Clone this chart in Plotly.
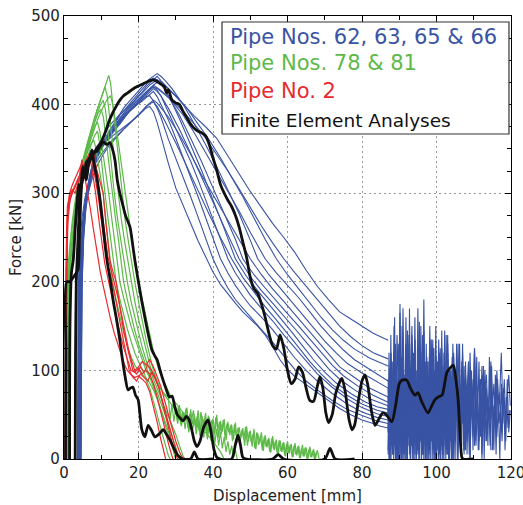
import plotly.graph_objects as go

# ---------------- data ----------------
BLUE_1 = [(3.8,0),(4.0,185),(4.3,235),(4.6,85),(4.9,215),(5.3,265),(6,300),(7,322),(8,338),(9,345),(10,352),(11,357),(12,361),(13,365),(14,368),(15,371),(16,374),(17,377),(18,380),(19,384),(20,388),(21,392),(22,396),(23,398),(24,392),(25,380),(26,364),(27,348),(28,334),(30,306),(32,285),(34,266),(36,246),(38,228),(40,211),(42,197),(44,186),(46,176),(48,166),(50,158),(52,150),(54,140),(56,127),(58,112),(60,101),(62,93),(65,84),(68,75),(71,66),(74,57),(77,50),(80,44),(83,40),(85,37),(87,35)]
BLUE_2 = [(3.6,0),(3.8,190),(4.2,240),(4.8,270),(5.5,292),(6.5,312),(7.5,330),(8.5,342),(10,354),(11,360),(12,367),(13,371),(14,376),(15,382),(16,386),(17,390),(18,395),(19,398),(20,402),(21,405),(22,409),(23,410),(24,404),(25,396),(26,386),(28,361),(30,340),(32,318),(34,296),(36,273),(38,250),(40,226),(42,208),(44,193),(46,180),(48,170),(50,160),(53,146),(56,132),(59,116),(62,101),(65,88),(68,78),(72,66),(76,56),(80,49),(84,43),(87,40)]
BLUE_3 = [(3.9,0),(4.1,175),(4.5,230),(5,262),(6,298),(7,318),(8,335),(9,346),(10,352),(12,364),(13,370),(14,374),(15,380),(16,385),(17,390),(18,394),(19,397),(20,401),(21,404),(22,408),(23,412),(24,415),(25,409),(26,400),(28,383),(30,362),(32,341),(34,318),(36,296),(38,273),(40,250),(42,226),(44,210),(46,196),(48,184),(50,173),(53,160),(56,146),(59,130),(62,114),(65,100),(68,88),(72,74),(76,62),(80,53),(84,47),(87,44)]
BLUE_4 = [(4.1,0),(4.3,180),(4.7,238),(5.3,275),(6,296),(7,317),(8,333),(9,344),(10,350),(11,358),(12,362),(13,368),(14,373),(15,378),(16,384),(17,389),(18,395),(19,399),(20,404),(21,408),(22,412),(23,417),(24,420),(25,416),(26,410),(28,392),(30,374),(32,355),(34,336),(36,315),(38,293),(40,272),(42,249),(44,226),(46,210),(48,197),(50,185),(53,170),(56,156),(59,140),(62,125),(65,110),(68,96),(72,81),(76,68),(80,58),(84,51),(87,48)]
BLUE_5 = [(3.7,0),(3.9,170),(4.3,228),(4.9,262),(5.6,288),(6.5,308),(7.5,322),(8.5,334),(10,344),(11,350),(12,355),(13,360),(14,364),(15,368),(16,372),(17,376),(18,380),(19,384),(20,388),(21,393),(22,397),(23,401),(24,403),(25,398),(27,382),(30,357),(33,330),(36,302),(39,276),(42,250),(45,226),(48,205),(51,188),(54,172),(57,157),(60,142),(63,126),(66,110),(69,96),(72,84),(76,72),(80,62),(84,55),(87,52)]
BLUE_6 = [(4.3,0),(4.5,190),(4.9,245),(5.5,278),(6.3,300),(7.2,320),(8.2,336),(9.5,350),(11,360),(12,366),(13,372),(14,378),(15,384),(16,389),(17,394),(18,398),(19,403),(20,407),(21,411),(22,415),(23,419),(24,422),(25,425),(26,423),(27,418),(29,402),(31,384),(33,365),(35,345),(37,325),(39,303),(41,282),(43,260),(46,226),(49,206),(52,190),(55,175),(58,160),(61,144),(64,128),(67,112),(70,98),(73,86),(77,74),(81,64),(84,59),(87,56)]
BLUE_7 = [(4.0,0),(4.2,185),(4.6,236),(5.2,270),(6,295),(7,315),(8,332),(9,343),(10,352),(11,358),(12,364),(13,370),(14,376),(15,381),(16,386),(17,390),(18,394),(19,399),(20,403),(21,407),(22,411),(23,415),(24,418),(25,415),(26,410),(28,396),(31,372),(34,345),(37,318),(40,290),(43,262),(47,226),(50,206),(53,190),(56,176),(59,162),(62,147),(65,132),(68,117),(71,102),(74,90),(78,78),(82,68),(87,60)]
BLUE_8 = [(4.4,0),(4.6,195),(5,248),(5.6,280),(6.4,302),(7.4,322),(8.5,338),(10,352),(11,360),(12,367),(13,374),(14,381),(15,388),(16,393),(17,398),(18,403),(19,408),(20,413),(21,418),(22,422),(23,427),(24,430),(25,428),(26,424),(28,410),(31,388),(34,362),(37,335),(40,306),(43,278),(46,248),(48,226),(51,208),(54,193),(57,178),(60,164),(63,150),(66,135),(69,120),(72,106),(75,94),(79,82),(83,72),(87,64)]
BLUE_9 = [(3.8,0),(4.0,178),(4.4,232),(5,266),(5.8,290),(6.8,306),(7.8,320),(9,332),(10,340),(11,347),(12,353),(13,358),(14,363),(15,368),(16,372),(17,376),(18,380),(19,385),(20,389),(21,393),(22,398),(23,402),(24,405),(25,402),(28,386),(31,366),(34,344),(37,320),(40,298),(43,276),(46,254),(50,226),(53,208),(56,192),(59,178),(62,163),(65,148),(68,133),(71,118),(74,104),(78,92),(82,80),(87,70)]
BLUE_10 = [(4.5,0),(4.7,192),(5.1,250),(5.7,283),(6.5,305),(7.5,325),(8.6,340),(10,354),(11,362),(12,369),(13,376),(14,383),(15,390),(16,396),(17,401),(18,406),(19,411),(20,416),(21,420),(22,425),(23,429),(24,432),(25,435),(26,432),(27,428),(29,418),(32,400),(35,378),(38,355),(41,330),(44,303),(47,277),(50,247),(52,226),(55,208),(58,193),(61,178),(64,163),(67,148),(70,133),(73,120),(76,108),(80,97),(84,87),(87,80)]
BLUE_11 = [(4.2,0),(4.4,186),(4.8,240),(5.4,274),(6.2,298),(7.2,318),(8.3,335),(9.5,347),(11,357),(12,364),(13,370),(14,376),(15,382),(16,387),(17,392),(18,397),(19,401),(20,406),(21,410),(22,414),(23,418),(24,422),(25,419),(26,416),(29,404),(32,388),(35,368),(38,346),(41,325),(44,302),(47,280),(50,256),(54,226),(57,210),(60,196),(63,182),(66,166),(69,150),(72,136),(75,123),(78,112),(82,101),(87,88)]
BLUE_12 = [(4.6,0),(4.8,190),(5.2,246),(5.8,280),(6.6,302),(7.6,322),(8.7,338),(10,350),(11,358),(12,365),(13,372),(14,378),(15,385),(16,390),(17,395),(18,400),(19,405),(20,409),(21,413),(22,418),(23,422),(24,425),(25,428),(26,426),(27,422),(30,410),(33,396),(36,378),(39,360),(42,340),(45,318),(48,296),(51,272),(54,248),(57,226),(60,208),(63,192),(66,176),(69,160),(72,146),(75,134),(78,124),(82,114),(87,105)]
BLUE_13 = [(4.0,0),(4.2,182),(4.6,236),(5.2,270),(6,294),(7,315),(8,331),(9,342),(10,350),(11,357),(12,363),(13,369),(14,375),(15,380),(16,385),(17,390),(18,395),(19,399),(20,404),(21,408),(22,412),(23,416),(24,420),(25,418),(26,415),(29,405),(32,392),(35,378),(38,362),(41,344),(44,325),(47,305),(50,284),(53,263),(56,244),(59,226),(62,210),(65,195),(68,180),(71,165),(74,150),(77,138),(80,128),(83,120),(87,113)]
BLUE_14 = [(4.5,0),(4.8,190),(5.3,250),(6,290),(7,318),(8,338),(9,350),(10,360),(11,367),(12,375),(13,380),(14,385),(15,389),(16,392),(17,396),(18,400),(19,405),(20,410),(21,414),(22,420),(23,424),(24,428),(25,432),(26,427),(28,418),(30,410),(32,400),(35,387),(38,375),(41,362),(44,342),(47,322),(50,302),(53,284),(56,266),(59,250),(62,233),(65,213),(68,195),(71,180),(74,166),(77,158),(80,150),(83,142),(85,138),(87,134)]

# noisy post-buckling signals of the blue pipes
NOISE_START = 87.0
NOISE_STEP = 0.4
NOISE_1 = [60,20,95,5,120,30,80,0,140,45,100,10,160,25,90,0,130,55,110,15,170,40,85,5,125,60,95,20,150,30,75,0,115,50,135,10,90,35,145,5,100,25,80,0,120,45,95,15,130,20,70,40,110,5,85,30,100,10,125,55,75,20,90,0,105,35,80,15,115,45,70,10,95,25,60,0,85,40,70,20,90,30,55]
NOISE_2 = [70,10,110,30,150,0,90,50,175,20,100,5,130,60,85,10,140,35,160,0,95,45,120,15,180,30,70,10,135,55,105,0,150,25,90,40,125,5,80,30,140,15,100,50,70,0,115,20,95,35,130,10,85,45,110,0,75,25,120,40,65,10,90]
NOISE_3 = [45,100,0,80,25,130,10,95,40,115,0,70,30,145,15,90,55,120,5,85,35,155,20,75,0,110,45,95,10,135,30,80,0,100,50,125,15,70,35,140,5,90,25,115,0,95,60,130,20,85,40,105,10,75,30,120,50,90,15,65,40,110,25,80,55,100,20,70,45,95,10,60,35,85,50,75,30,65]
NOISE_4 = [55,5,85,20,120,0,75,35,165,10,90,40,110,0,140,25,70,50,125,5,95,30,150,15,80,0,105,45,135,20,65,5,115,35,90,0,145,25,75,10,120,40,95,0,85,30,130,15,70,45,100,5,80,20,60]
NOISE_5 = [90,30,120,60,100,20,140,75,110,35,170,50,95,25,130,80,150,40,105,15,125,65,90,30,145,55,115,20,100,70,135,35,85,10,120,60,95,25,110,75,130,40,90,55,115,20,100,65,80,35,120,50,95,70,110,30,85,60,125,45,75,90,55,105,40,80,95,50,70,110,60,85,45,100,65,75,120,55,90,40,70,95,60]
NOISE_6 = [40,0,60,15,90,5,70,25,110,0,55,30,95,10,80,0,120,20,65,40,100,5,75,15,105,30,60,0,90,45,70,10,115,25,85,0,65,35,100,15,80,5,95,40,60,20,110,0,75,30,90,10,55,25,85,0,70,45,95,15,65,35,80,5,60,20,75,40,55,10]
DENSE_STEP = 0.25
NOISE_7 = [10,85,0,70,20,110,5,95,0,75,15,120,0,90,30,100,5,80,0,115,10,70,25,95,0,130,15,85,0,105,20,75,5,95,0,120,10,80,30,100,0,90,15,110,5,70,0,95,20,125,10,85,0,100,25,75,5,115,0,90,15,80,0,105,30,70,10,95,0,85,20,60]
NOISE_8 = [80,0,100,25,70,5,120,15,90,0,85,35,110,0,75,20,130,10,95,0,80,40,105,5,70,15,125,0,90,30,100,10,75,0,115,20,85,5,95,35,70,0,110,15,90,0,120,25,80,10,100,0,75,30,95,5,115,15,70,0,90,40,105,10,80,0,100,20,85,5,75,50]
NOISE_9 = [30,120,60,140,20,100,70,160,40,90,10,130,55,110,25,150,45,95,15,125,65,105,30,170,50,85,20,115,60,135,35,100,10,120,45,90,25,140,55,105,15,130,40,95,65,115,20,100,50,125,30,90,60,110,15,120,45,85,25,105,55,95,35,115,20,80,50,100,30,90,60,75]
NOISE_10 = [5,60,0,45,15,75,0,55,10,80,0,50,20,70,5,65,0,85,15,55,0,70,25,60,5,90,0,50,15,75,0,65,10,55,20,80,0,60,5,70,15,50,0,75,10,65,25,55,0,80,15,60,5,70,0,50,20,65,10,85,0,55,15,70,5,60,0,75,10,50,20,65]
NOISE_11_START = 100.0
NOISE_11 = [40,100,20,80,5,120,35,70,10,95,50,130,25,85,0,75,40,110,15,90,30,60,5,100,45,80,20,115,10,70,35,95,0,85,50,65,15,105,30,75,5,90,40,60,20,80,10,70,35,55]

GREEN_1 = [(0.6,0),(0.7,150),(1,215),(1.6,245),(2.2,268),(3,292),(3.8,312),(4.6,330),(5.5,345),(6.4,360),(7.3,372),(8.2,385),(9,396),(9.8,405),(10.6,415),(11.3,424),(12,433),(12.5,424),(13.2,395),(14,362),(14.8,330),(15.5,300),(16.4,270),(17.3,245),(18.2,220),(19,200),(20,178),(21,155),(22,135),(23,117),(24,100),(25,88),(26,79),(27,72),(28,66),(29,60),(30,55)]
GREEN_2 = [(0.8,0),(0.9,160),(1.3,220),(2,255),(2.8,280),(3.6,300),(4.5,322),(5.4,340),(6.3,356),(7.2,370),(8,382),(8.8,393),(9.6,403),(10.3,412),(11,420),(11.6,410),(12.3,385),(13,355),(13.8,328),(14.5,300),(15.4,270),(16.3,245),(17.2,222),(18,200),(19,178),(20,158),(21,140),(22,122),(23,107),(23.5,100),(24.5,90),(25.5,82),(26.5,76),(27.3,72),(28,70)]
GREEN_3 = [(1.0,0),(1.1,120),(1.3,200),(2,240),(2.8,272),(3.5,296),(4.3,318),(5.2,336),(6,350),(7,364),(8,378),(8.8,388),(9.6,398),(10.5,405),(11.1,395),(11.8,370),(12.6,335),(13.5,300),(14.4,270),(15.3,245),(16.2,222),(17,200),(18,178),(19,160),(20,142),(21,126),(22,112),(23,100),(24,90),(25,80),(26,68),(27,58),(28,48),(29,38),(30,28),(31,15),(32,3),(32.5,0)]
GREEN_4 = [(1.2,0),(1.3,140),(1.6,210),(2.3,248),(3,275),(3.8,300),(4.6,322),(5.5,340),(6.4,355),(7.3,368),(8.2,380),(9.1,390),(10,395),(10.6,385),(11.3,360),(12.1,330),(13,300),(13.8,272),(14.6,248),(15.3,225),(16,200),(17,180),(18,162),(19,145),(20,130),(21,118),(22,106),(22.5,100),(23.5,88),(24.5,75),(25.5,62),(26.5,50),(27.5,38),(28.5,25),(29.5,10),(30,0)]
GREEN_5 = [(0.5,0),(0.6,100),(0.8,180),(1.2,205),(1.8,230),(2.5,258),(3.3,285),(4.1,310),(5,330),(5.9,345),(6.8,358),(7.6,368),(8.3,376),(9,380),(9.6,370),(10.3,350),(11.1,325),(12,300),(12.8,272),(13.5,248),(14.2,225),(15,200),(16,182),(17,165),(18,150),(19,137),(20,124),(21,112),(22,100),(23,92),(24,85),(25,75),(26,64),(27,52),(28,40),(29,26),(30,12),(31,0)]
GREEN_6 = [(1.0,0),(1.05,110),(1.2,125),(1.5,190),(2.2,225),(3,258),(3.8,285),(4.6,308),(5.5,326),(6.4,342),(7.3,355),(8.2,365),(9,370),(9.6,355),(10.3,325),(11,300),(11.8,272),(12.5,248),(13.2,225),(14,200),(15,180),(16,162),(17,147),(18,133),(19,120),(20,110),(21,100),(22,92),(23,86),(24,78),(25,68),(26,55),(27,42),(28,28),(29,14),(30,0)]
GREEN_7 = [(1.5,0),(1.6,150),(2,215),(2.7,250),(3.5,280),(4.3,305),(5.2,326),(6.1,344),(7,358),(8,371),(9,383),(10,393),(10.8,400),(11.6,406),(12.5,410),(13.2,398),(14,375),(14.8,350),(15.6,325),(16.5,300),(17.4,272),(18.3,245),(19.2,222),(20,200),(21,180),(22,160),(23,140),(24,122),(25,107),(25.5,100),(26.5,90),(27.5,80),(28.5,72),(29.5,66),(30.5,60),(31.5,55),(32.5,50),(33.5,46),(34.5,42),(35.5,38),(36.5,35),(38,30),(40,20),(42,8),(43,0)]
GREEN_8 = [(0.7,0),(0.8,130),(1.1,200),(1.8,235),(2.6,265),(3.4,290),(4.2,310),(5,327),(5.8,340),(6.6,350),(7.3,356),(8,360),(8.6,350),(9.3,330),(10,312),(10.5,300),(11.2,272),(11.9,245),(12.5,222),(13,200),(14,180),(15,160),(16,143),(17,128),(18,115),(19,106),(20,100),(21,96),(22,90),(23,80),(24,66),(25,50),(26,34),(27,18),(28,4),(28.5,0)]
# noisy green tails (0.5 mm sampling)
TAIL_STEP = 0.5
GREEN_TAIL_1_START = 30.0
GREEN_TAIL_1 = [55,42,61,37,52,44,58,33,56,39,50,35,55,30,49,36,52,28,47,33,46,29,50,24,43,31,45,21,42,27,39,22,41,18,36,24,35,15,37,20,32,14,34,11,29,18,30,9,27,13,24,7,26,10,22,5,21,8,19,3,20,6,17,2,18,4,15,1,16,3,13,0,14,2,11,0,10,0]
GREEN_TAIL_2_START = 28.0
GREEN_TAIL_2 = [70,45,62,42,58,40,55,38,52,34,50,30,47,32,45,28,44,26,42,24,40,22,38,20,36,18,34,15,30,12,25,8,20,5,15,2,10,0]
GREEN_TAIL_3_START = 30.25
GREEN_TAIL_3 = [48,60,40,53,46,57,35,51,44,55,38,48,32,53,41,46,30,49,36,44,26,47,33,42,28,44,24,40,30,38,20,39,26,35,17,33,22,36,15,31,19,28,12,30,16,26,10,25,14,22,8,23,11,20,6,21,9,18,4,17,7,16,2,15,5,14,1,12,3,13,0,11,2,9,0,8]

RED_1 = [(0.3,0),(0.4,170),(0.7,260),(1.2,290),(2,300),(2.8,308),(3.6,315),(4.4,322),(5,326),(5.6,318),(6,308),(6.4,300),(7.1,282),(7.8,262),(8.5,242),(9.1,225),(9.7,212),(10.5,196),(11.5,176),(12.5,158),(13.5,142),(14.5,128),(15.5,116),(16.3,106),(17,100),(18,95),(19,92),(20,94),(21,90),(22,86),(23,76),(24,60),(25,42),(26,22),(27,5),(27.3,0)]
RED_2 = [(0.5,0),(0.6,190),(0.9,275),(1.5,300),(2.3,310),(3.2,318),(4,326),(4.8,334),(5.4,330),(6,338),(6.7,344),(7.3,347),(8,348),(8.6,330),(9.5,300),(10.3,275),(11.1,250),(11.8,228),(12.6,214),(13.5,200),(14.5,182),(15.5,162),(16.5,140),(17.3,124),(18.2,110),(19,100),(20,104),(21,110),(22,106),(23,112),(24,104),(25,94),(26,82),(27,66),(28,50),(29,35),(30,20),(31,8),(32,0)]
RED_3 = [(0.4,0),(0.5,150),(0.7,230),(1.1,280),(1.8,296),(2.6,304),(3.4,312),(4.2,320),(4.8,338),(5.2,326),(5.8,332),(6.4,338),(7,340),(7.7,322),(8.5,300),(9.3,272),(10.1,245),(10.9,222),(12,200),(13,180),(14,160),(15,142),(16,126),(17,112),(18,100),(19,98),(20,102),(21,96),(22,100),(23,96),(24,85),(25,70),(26,52),(27,35),(28,18),(29,3),(29.3,0)]
RED_4 = [(0.6,0),(0.7,180),(1,265),(1.6,292),(2.4,302),(3.2,310),(4,318),(4.8,326),(5.6,334),(6.4,340),(7,343),(7.5,345),(8.2,336),(9,324),(9.8,312),(10.5,300),(11.2,268),(11.8,240),(12.3,225),(13.1,212),(14,200),(15,172),(16,146),(17,126),(17.8,112),(18.5,100),(19.5,96),(20.5,104),(21.5,98),(22.5,106),(23.5,100),(24.5,92),(25.5,80),(26.5,62),(27.5,44),(28.5,26),(29.5,10),(30.5,0)]
RED_5 = [(0.45,0),(0.55,200),(0.9,285),(1.5,298),(2.2,304),(3,300),(3.8,312),(4.6,320),(5.4,328),(6.2,336),(7,342),(7.6,336),(8.4,318),(9.2,296),(10,270),(10.7,246),(11.5,224),(12.4,208),(13.4,190),(14.4,168),(15.4,145),(16.4,122),(17.5,100),(18.5,92),(19.5,88),(20.5,96),(21.5,92),(22.5,88),(23.5,98),(24.5,90),(25.5,80),(26.5,64),(27.5,48),(28.5,32),(29.5,18),(30.5,5),(31,0)]

FE_BLUE = [(3.0,0),(3.1,120),(3.3,200),(3.6,232),(4.0,272),(4.3,300),(5,315),(6,326),(7,337),(8,345),(9,352),(10,358),(11,368),(12,380),(13,390),(14,398),(15,405),(16,410),(17,413),(18,416),(19,419),(20,421),(21,423),(22,425),(23,427),(24,428),(25,426),(26,423),(27,420),(27.5,413),(28,417),(29,405),(30,402),(31,400),(32,392),(33,385),(34,378),(35,373),(36,370),(37,368),(38,365),(39,355),(40,340),(41,326),(42,310),(43,300),(44,292),(45,285),(46,275),(47,262),(48,245),(49,228),(50,205),(51,192),(52,187),(53,175),(54,160),(55,142),(56,128),(57,124),(58,140),(59,125),(60,100),(61,85),(62,90),(63,104),(64,98),(65,80),(66,66),(67,65),(68,82),(68.7,93),(69.5,80),(70.3,52),(71,41),(72,50),(73,75),(74.6,91),(75.5,76),(76.5,45),(77.3,33),(78,38),(79,65),(80,88),(80.8,95),(81.5,85),(82.5,55),(83.5,38),(84.5,45),(85.6,52),(86.5,50),(88,42),(89,60),(90,85),(90.7,89),(92,89),(93,80),(94.2,72),(95,75),(96,65),(97.7,52),(98.5,58),(99.6,67),(100.5,70),(101.5,72),(102.3,88),(102.8,98),(103.5,102),(104.5,106),(105.2,90),(105.8,67),(106.3,30),(106.8,2),(107.2,0),(110,0)]
FE_GREEN = [(1.5,0),(1.6,150),(2,210),(2.5,225),(3,260),(3.5,290),(4,310),(4.5,305),(5,330),(5.5,320),(6,335),(7,340),(8,345),(9,348),(10,355),(10.5,358),(11.5,355),(12.3,357),(13,350),(13.7,337),(14.3,315),(15,300),(15.6,290),(16.5,275),(17.7,262),(18.5,240),(19,225),(19.9,202),(20.8,180),(21.7,160),(22.5,143),(23.6,123),(24.3,117),(25,112),(25.8,100),(26.6,89),(27.5,78),(28.3,70),(29,71),(29.7,60),(30.4,50),(31.2,46),(32,43),(32.8,48),(33.5,45),(34.3,33),(35,20),(35.7,14),(36.5,20),(37.5,36),(38.7,44),(39.5,30),(40.3,10),(41,2),(42,0),(45,0),(46,16),(46.7,27),(47.4,15),(48,2),(49,0),(56,0),(57.5,5),(59,0),(70,0),(71.4,12),(72.8,0),(78,0)]
FE_RED = [(0.4,0),(0.5,120),(0.7,200),(1.5,200),(2.5,205),(3.3,210),(3.8,215),(4.2,260),(4.6,300),(5,320),(5.5,325),(6,315),(6.5,330),(7,341),(7.5,349),(8,335),(8.8,318),(9.7,292),(10.5,262),(11.5,225),(12.3,205),(13.2,179),(14,160),(15,134),(15.7,112),(16.4,93),(17.2,78),(17.8,80),(18.5,81),(19.2,72),(19.9,67),(20.4,50),(20.9,33),(21.7,25),(22.6,38),(23.5,32),(24.4,25),(25.5,28),(26.6,33),(27.5,28),(28.5,21),(29.5,12),(30.6,4),(32,0),(34,0),(35,8),(36,0),(40,0)]

LEGEND_LABELS = ["Pipe Nos. 62, 63, 65 & 66", "Pipe Nos. 78 & 81", "Pipe No. 2", "Finite Element Analyses"]

X_TICKS = [0, 20, 40, 60, 80, 100, 120]
Y_TICKS = [0, 100, 200, 300, 400, 500]

# ---------------- styling ----------------
BLUE = "#3953a4"
GREEN = "#5db948"
RED = "#e82a2e"
BLACK = "#111111"
LEG_COLORS = [BLUE, GREEN, RED, "#111111"]

fig = go.Figure()


def add_pts(pts, color, width, shape="linear"):
    line = dict(color=color, width=width, shape=shape)
    if shape == "spline":
        line["smoothing"] = 0.7
    fig.add_trace(go.Scatter(x=[p[0] for p in pts], y=[p[1] for p in pts], mode="lines",
                             line=line, showlegend=False, hoverinfo="skip"))


def add_sampled(start, step, ys, color, width):
    fig.add_trace(go.Scatter(x=[start + step * i for i in range(len(ys))], y=ys, mode="lines",
                             line=dict(color=color, width=width),
                             showlegend=False, hoverinfo="skip"))


for c in [BLUE_1, BLUE_2, BLUE_3, BLUE_4, BLUE_5, BLUE_6, BLUE_7, BLUE_8, BLUE_9,
          BLUE_10, BLUE_11, BLUE_12, BLUE_13, BLUE_14]:
    add_pts(c, BLUE, 1.1)
for n in [NOISE_1, NOISE_2, NOISE_3, NOISE_4, NOISE_5, NOISE_6]:
    add_sampled(NOISE_START, NOISE_STEP, n, BLUE, 1.1)
for n in [NOISE_7, NOISE_8, NOISE_9, NOISE_10]:
    add_sampled(NOISE_START, DENSE_STEP, n, BLUE, 1.1)
add_sampled(NOISE_11_START, NOISE_STEP, NOISE_11, BLUE, 1.1)

for c in [GREEN_1, GREEN_2, GREEN_3, GREEN_4, GREEN_5, GREEN_6, GREEN_7, GREEN_8]:
    add_pts(c, GREEN, 1.2)
add_sampled(GREEN_TAIL_1_START, TAIL_STEP, GREEN_TAIL_1, GREEN, 1.2)
add_sampled(GREEN_TAIL_2_START, TAIL_STEP, GREEN_TAIL_2, GREEN, 1.2)
add_sampled(GREEN_TAIL_3_START, TAIL_STEP, GREEN_TAIL_3, GREEN, 1.2)

for c in [RED_1, RED_2, RED_3, RED_4, RED_5]:
    add_pts(c, RED, 1.2)

for c in [FE_RED, FE_GREEN, FE_BLUE]:
    add_pts(c, BLACK, 2.8, shape="spline")

TICKFONT = dict(family="DejaVu Sans", size=15, color="#222222")

axis_common = dict(
    showline=True, linecolor="black", linewidth=1.2, mirror="ticks",
    ticks="inside", ticklen=6, tickwidth=1, tickcolor="black",
    showgrid=True, gridcolor="#999999", gridwidth=1, griddash="2px,3px",
    zeroline=False, tickfont=TICKFONT, automargin=False,
)

fig.update_xaxes(range=[0, 120], tickvals=X_TICKS, ticktext=[str(v) for v in X_TICKS],
                 ticklabeloverflow="allow",
                 minor=dict(tickvals=[10, 30, 50, 70, 90, 110], ticks="inside", ticklen=4, tickcolor="black", showgrid=False),
                 title=dict(text="Displacement [mm]", font=dict(family="DejaVu Sans", size=15, color="#222222"), standoff=14),
                 **axis_common)
fig.update_yaxes(range=[0, 500], tickvals=Y_TICKS, ticktext=[str(v) for v in Y_TICKS],
                 minor=dict(dtick=25, ticks="inside", ticklen=4, tickcolor="black", showgrid=False),
                 title=dict(text="Force [kN]", font=dict(family="DejaVu Sans", size=15, color="#222222"), standoff=6),
                 **axis_common)

# legend box (paper coordinates)
fig.add_shape(type="rect", xref="paper", yref="paper", x0=0.3535, x1=0.9955, y0=0.7336, y1=0.9865,
              line=dict(color="#333333", width=1.2), fillcolor="white", layer="above")
leg_y = [0.9526, 0.8939, 0.8307, 0.7652]
leg_size = [21, 21, 21, 18.5]
for lab, col, yy, fs in zip(LEGEND_LABELS, LEG_COLORS, leg_y, leg_size):
    fig.add_annotation(xref="paper", yref="paper", x=0.3669, y=yy, xanchor="left", yanchor="middle",
                       text=lab, showarrow=False, font=dict(family="DejaVu Sans", size=fs, color=col))

fig.update_layout(width=523, height=505, margin=dict(l=64, r=12, t=16, b=46),
                  paper_bgcolor="white", plot_bgcolor="white", showlegend=False)

fig.write_html("out.html")
